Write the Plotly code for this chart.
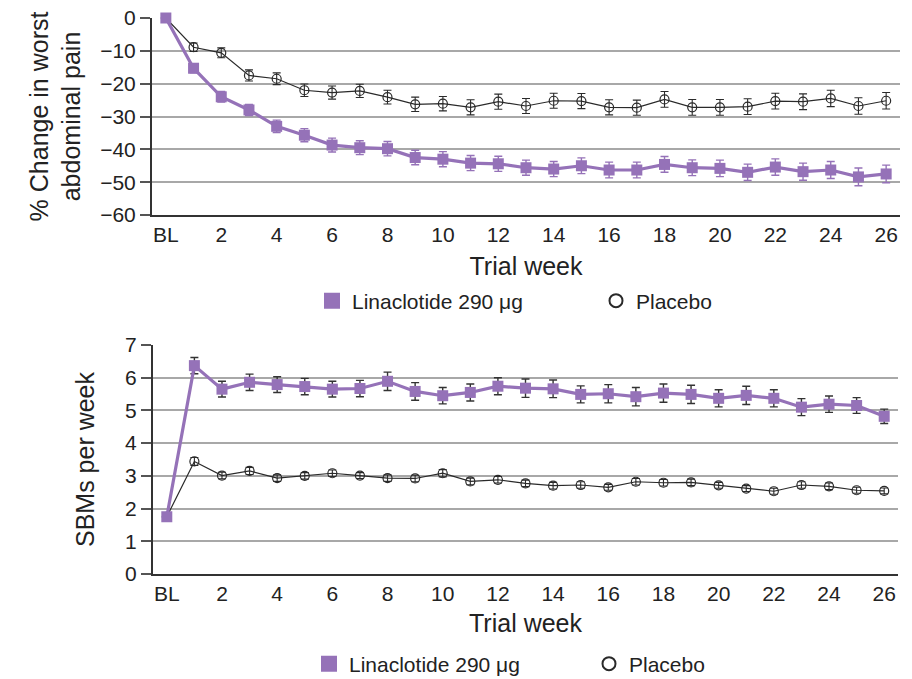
import plotly.graph_objects as go

weeks = list(range(0, 27))
tick_vals = list(range(0, 27, 2))
tick_text = ["BL"] + [str(v) for v in range(2, 27, 2)]

# Panel A: % change in worst abdominal pain
pain_lina = [0, -15.3, -24.0, -28.0, -33.0, -35.7, -38.7, -39.5, -39.8, -42.5, -43.0,
             -44.2, -44.4, -45.6, -46.0, -45.0, -46.3, -46.3, -44.6, -45.6, -45.8,
             -47.0, -45.4, -46.8, -46.3, -48.4, -47.5]
pain_lina_err = [0, 1.4, 1.6, 1.7, 1.9, 2.0, 2.1, 2.1, 2.2, 2.2, 2.3,
                 2.3, 2.3, 2.3, 2.3, 2.4, 2.4, 2.4, 2.4, 2.4, 2.5,
                 2.5, 2.5, 2.6, 2.6, 2.7, 2.7]
pain_plac = [0, -8.9, -10.6, -17.5, -18.5, -22.0, -22.7, -22.2, -24.1, -26.3, -26.1,
             -27.2, -25.5, -26.8, -25.2, -25.3, -27.2, -27.3, -24.8, -27.2, -27.2,
             -27.0, -25.3, -25.5, -24.5, -26.8, -25.2]
pain_plac_err = [0, 1.3, 1.5, 1.7, 1.8, 1.9, 2.0, 2.0, 2.1, 2.2, 2.2,
                 2.3, 2.3, 2.3, 2.3, 2.3, 2.3, 2.3, 2.4, 2.4, 2.4,
                 2.4, 2.4, 2.4, 2.5, 2.5, 2.5]

# Panel B: SBMs per week
sbm_lina = [1.75, 6.37, 5.65, 5.86, 5.79, 5.73, 5.65, 5.67, 5.89, 5.58, 5.45,
            5.55, 5.74, 5.68, 5.66, 5.49, 5.51, 5.42, 5.53, 5.49, 5.37,
            5.46, 5.37, 5.10, 5.19, 5.15, 4.82]
sbm_lina_err = [0.0, 0.25, 0.24, 0.25, 0.24, 0.25, 0.24, 0.25, 0.28, 0.27, 0.25,
                0.26, 0.26, 0.28, 0.27, 0.26, 0.28, 0.28, 0.28, 0.28, 0.26,
                0.28, 0.26, 0.26, 0.25, 0.24, 0.22]
sbm_plac = [1.75, 3.44, 3.01, 3.15, 2.93, 3.00, 3.08, 3.01, 2.93, 2.92, 3.08,
            2.83, 2.88, 2.77, 2.70, 2.72, 2.65, 2.82, 2.79, 2.80, 2.71,
            2.61, 2.53, 2.72, 2.68, 2.56, 2.54]
sbm_plac_err = [0.0, 0.12, 0.10, 0.11, 0.10, 0.10, 0.10, 0.09, 0.10, 0.10, 0.11,
                0.10, 0.10, 0.10, 0.10, 0.10, 0.09, 0.10, 0.10, 0.10, 0.09,
                0.09, 0.09, 0.10, 0.10, 0.09, 0.09]

PURPLE = "#9572b8"
DARK = "#2a2a2a"
FONT = "Liberation Sans, Arial, sans-serif"

fig = go.Figure()

def add_panel(xa, ya, plac, plac_err, lina, lina_err, lina_err_color):
    fig.add_trace(go.Scatter(
        x=weeks, y=plac, xaxis=xa, yaxis=ya, mode="lines+markers",
        line=dict(color=DARK, width=1.2),
        marker=dict(symbol="circle-open", size=9, color=DARK, line=dict(width=1.2)),
        error_y=dict(type="data", array=plac_err, color=DARK, thickness=1.1, width=4),
        showlegend=False, cliponaxis=False, hoverinfo="skip"))
    fig.add_trace(go.Scatter(
        x=weeks, y=lina, xaxis=xa, yaxis=ya, mode="lines+markers",
        line=dict(color=PURPLE, width=3.2),
        marker=dict(symbol="square", size=11, color=PURPLE),
        error_y=dict(type="data", array=lina_err, color=lina_err_color, thickness=1.4, width=4),
        showlegend=False, cliponaxis=False, hoverinfo="skip"))

add_panel("x", "y", pain_plac, pain_plac_err, pain_lina, pain_lina_err, PURPLE)
add_panel("x2", "y2", sbm_plac, sbm_plac_err, sbm_lina, sbm_lina_err, "#333333")

# legend entries
for lg in ["legend", "legend2"]:
    fig.add_trace(go.Scatter(x=[None], y=[None], mode="markers", name="Linaclotide 290 μg",
                             marker=dict(symbol="square", size=16, color=PURPLE),
                             legend=lg, xaxis="x", yaxis="y"))
    fig.add_trace(go.Scatter(x=[None], y=[None], mode="markers", name="Placebo",
                             marker=dict(symbol="circle-open", size=13, color=DARK,
                                         line=dict(width=2)),
                             legend=lg, xaxis="x", yaxis="y"))

xcommon = dict(range=[-0.5, 26.5], tickvals=tick_vals, ticktext=tick_text,
               showgrid=False, zeroline=False, showline=True, linecolor="#333",
               linewidth=2, ticks="", tickfont=dict(size=21, color="#222"))
ycommon = dict(showgrid=True, gridcolor="#a8a8a8", gridwidth=1.6, zeroline=False,
               showline=True, linecolor="#333", linewidth=2, ticks="outside",
               ticklen=10, tickwidth=1.6, tickcolor="#555",
               tickfont=dict(size=21, color="#222"))

fig.update_layout(
    width=912, height=679,
    margin=dict(l=0, r=0, t=0, b=0, autoexpand=False),
    paper_bgcolor="white", plot_bgcolor="white",
    font=dict(family=FONT, color="#222"),
    xaxis=dict(domain=[152/912, 900/912], anchor="y",
               title=dict(text="Trial week", font=dict(size=25, color="#222"), standoff=12),
               **xcommon),
    xaxis2=dict(domain=[153/912, 898/912], anchor="y2",
                title=dict(text="Trial week", font=dict(size=25, color="#222"), standoff=10),
                **xcommon),
    yaxis=dict(domain=[1-215/679, 1-18/679], anchor="x", range=[-60, 0], dtick=10,
               title=dict(text="% Change in worst<br>abdominal pain",
                          font=dict(size=25, color="#222"), standoff=12),
               **ycommon),
    yaxis2=dict(domain=[1-574/679, 1-345/679], anchor="x2", range=[0, 7], dtick=1,
                title=dict(text="SBMs per week", font=dict(size=25, color="#222"),
                           standoff=23),
                **ycommon),
    legend=dict(orientation="h", x=312/912, xanchor="left", y=1-301/679, yanchor="middle",
                font=dict(size=21, color="#222"), entrywidth=239, entrywidthmode="pixels",
                bgcolor="rgba(0,0,0,0)"),
    legend2=dict(orientation="h", x=309/912, xanchor="left", y=1-664/679, yanchor="middle",
                 font=dict(size=21, color="#222"), entrywidth=235, entrywidthmode="pixels",
                 bgcolor="rgba(0,0,0,0)"),
)

fig.write_html("out.html", config={"displayModeBar": False},
               post_script="document.body.style.margin='0';document.body.style.overflow='hidden';")
